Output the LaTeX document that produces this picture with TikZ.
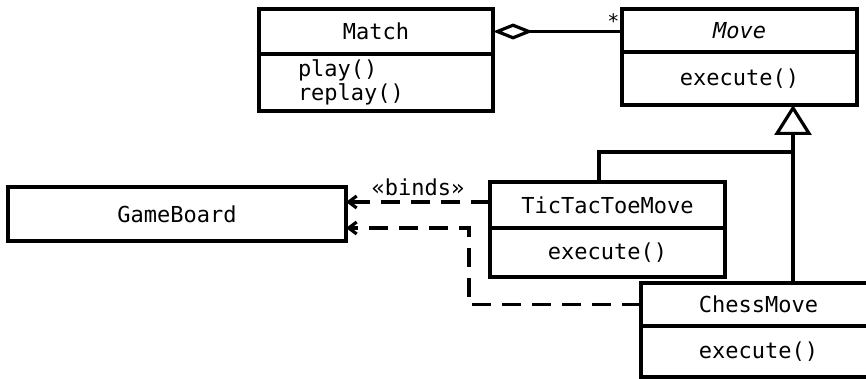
\documentclass[tikz,border=0pt]{standalone}
\usepackage{fontspec}
\setmainfont{DejaVu Sans Mono}
\usetikzlibrary{arrows.meta, positioning, calc}

\tikzset{
  umlbox/.style={draw, line width=3.2pt, outer sep=0pt, inner sep=0pt, minimum width=235pt, font=\fontsize{22}{24}\selectfont},
  umlline/.style={line width=3.2pt},
  dep/.style={line width=3.2pt, dash pattern=on 19pt off 11pt, -{Straight Barb[length=8pt, width=12pt]}},
}

\begin{document}
\begin{tikzpicture}[x=1pt, y=-1pt]
  \useasboundingbox (0,0) rectangle (866,379);

  % Match
  \node[umlbox, minimum width=234pt, minimum height=45pt] (matchname) at (376,31.5) {Match};
  \node[umlbox, minimum width=234pt, minimum height=57pt, text width=156pt, inner xsep=39pt, align=left, below=0pt of matchname] (matchops) {play()\\replay()};

  % Move (abstract)
  \node[umlbox, minimum height=43pt] (movename) at (739.5,30.5) {\itshape Move};
  \node[umlbox, minimum height=53pt, below=0pt of movename] (moveops) {execute()};

  % TicTacToeMove
  \node[umlbox, minimum height=46pt] (tttname) at (607.5,205) {TicTacToeMove};
  \node[umlbox, minimum height=49pt, below=0pt of tttname] (tttops) {execute()};

  % ChessMove
  \node[umlbox, minimum height=43pt] (chessname) at (758.5,304.5) {ChessMove};
  \node[umlbox, minimum height=51pt, below=0pt of chessname] (chessops) {execute()};

  % GameBoard
  \node[umlbox, minimum width=338pt, minimum height=54pt] (board) at (177,214) {GameBoard};

  % aggregation
  \draw[umlline, {Diamond[open, length=40pt, width=16pt]}-] (matchname.east) -- (matchname.east -| movename.west)
    node[above left, inner sep=1pt, font=\fontsize{20}{20}\selectfont] (mult) {*};

  % generalization
  \coordinate (hook) at (793,152);
  \draw[umlline, -{Triangle[open, length=30pt, width=37pt]}] (chessname.north -| hook) -- (moveops.south -| hook);
  \draw[umlline] ($(tttname.north west)+(109,0)$) |- (hook);

  % dependencies
  \coordinate (bindsfrom) at ($(tttname.west)+(0,-3)$);
  \draw[dep] (bindsfrom) -- (bindsfrom -| board.east)
    node[midway, above=1pt, font=\fontsize{22}{24}\selectfont] (binds) {«binds»};
  \draw[dep] (chessname.west) -- ++(-172,0) |- ($(board.east)+(0,14)$);
\end{tikzpicture}
\end{document}
